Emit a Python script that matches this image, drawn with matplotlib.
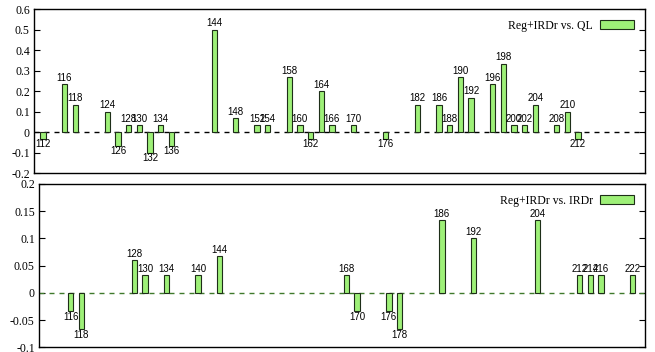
import matplotlib
matplotlib.use("Agg")
import matplotlib.pyplot as plt
from matplotlib.patches import Patch

# Per-position differences, first comparison
ql_pos = [112, 116, 118, 124, 126, 128, 130, 132, 134, 136, 144, 148, 152, 154,
          158, 160, 162, 164, 166, 170, 176, 182, 186, 188, 190, 192, 196, 198,
          200, 202, 204, 208, 210, 212]
ql_val = [-0.033, 0.233, 0.133, 0.1, -0.067, 0.033, 0.033, -0.1, 0.033, -0.067,
          0.5, 0.067, 0.033, 0.033, 0.267, 0.033, -0.033, 0.2, 0.033, 0.033,
          -0.033, 0.133, 0.133, 0.033, 0.267, 0.167, 0.233, 0.333, 0.033, 0.033,
          0.133, 0.033, 0.1, -0.033]

# Per-position differences, second comparison
irdr_pos = [116, 118, 128, 130, 134, 140, 144, 168, 170, 176, 178, 186, 192,
            204, 212, 214, 216, 222]
irdr_val = [-0.033, -0.067, 0.06, 0.033, 0.033, 0.033, 0.067, 0.033, -0.033,
            -0.033, -0.067, 0.133, 0.1, 0.133, 0.033, 0.033, 0.033, 0.033]

top_yticks = [-0.2, -0.1, 0, 0.1, 0.2, 0.3, 0.4, 0.5, 0.6]
bot_yticks = [-0.1, -0.05, 0, 0.05, 0.1, 0.15, 0.2]

FILL = "#9ef078"
EDGE = "#1e2e18"
SERIF = "Liberation Serif"
SANS = "Liberation Sans"

fig = plt.figure(figsize=(6.55, 3.52), dpi=100)
ax1 = fig.add_axes([0.0519, 0.5085, 0.9328, 0.4659])
ax2 = fig.add_axes([0.0595, 0.0130, 0.9252, 0.4643])


def panel(ax, pos, val, yticks, xlim, label, zero_color):
    ax.bar(pos, val, width=1.0, color=FILL, edgecolor=EDGE, linewidth=0.8,
           zorder=3, label=label)
    ax.axhline(0, color=zero_color, lw=1.0, dashes=(3.6, 3.6), zorder=2)
    ax.set_xlim(*xlim)
    ax.set_ylim(yticks[0], yticks[-1])
    ax.set_yticks(yticks)
    ax.set_yticklabels([f"{t:g}" for t in yticks], fontfamily=SERIF, fontsize=8.5)
    ax.set_xticks([])
    ax.tick_params(axis="y", direction="in", length=4, width=0.8,
                   right=True, pad=3)
    for s in ax.spines.values():
        s.set_linewidth(1.0)
    for p, v in zip(pos, val):
        if v >= 0:
            ax.annotate(str(p), (p, v), xytext=(0, 1), textcoords="offset points",
                        ha="center", va="bottom", fontsize=7, fontfamily=SANS,
                        zorder=4)
        else:
            ax.annotate(str(p), (p, v), xytext=(0, -0.5), textcoords="offset points",
                        ha="center", va="top", fontsize=7, fontfamily=SANS,
                        zorder=4)
    handle = Patch(facecolor=FILL, edgecolor=EDGE, linewidth=0.8)
    ax.legend([handle], [label], loc="upper right", frameon=False,
              markerfirst=False, handlelength=2.9, handleheight=0.75,
              handletextpad=0.6, borderaxespad=0.5,
              prop={"family": SERIF, "size": 8.5})


panel(ax1, ql_pos, ql_val, top_yticks, (110.3, 224.5), "Reg+IRDr vs. QL", "black")
panel(ax2, irdr_pos, irdr_val, bot_yticks, (110.0, 224.3), "Reg+IRDr vs. IRDr",
      "#3f7a2c")

fig.savefig("out.png", dpi=100)
